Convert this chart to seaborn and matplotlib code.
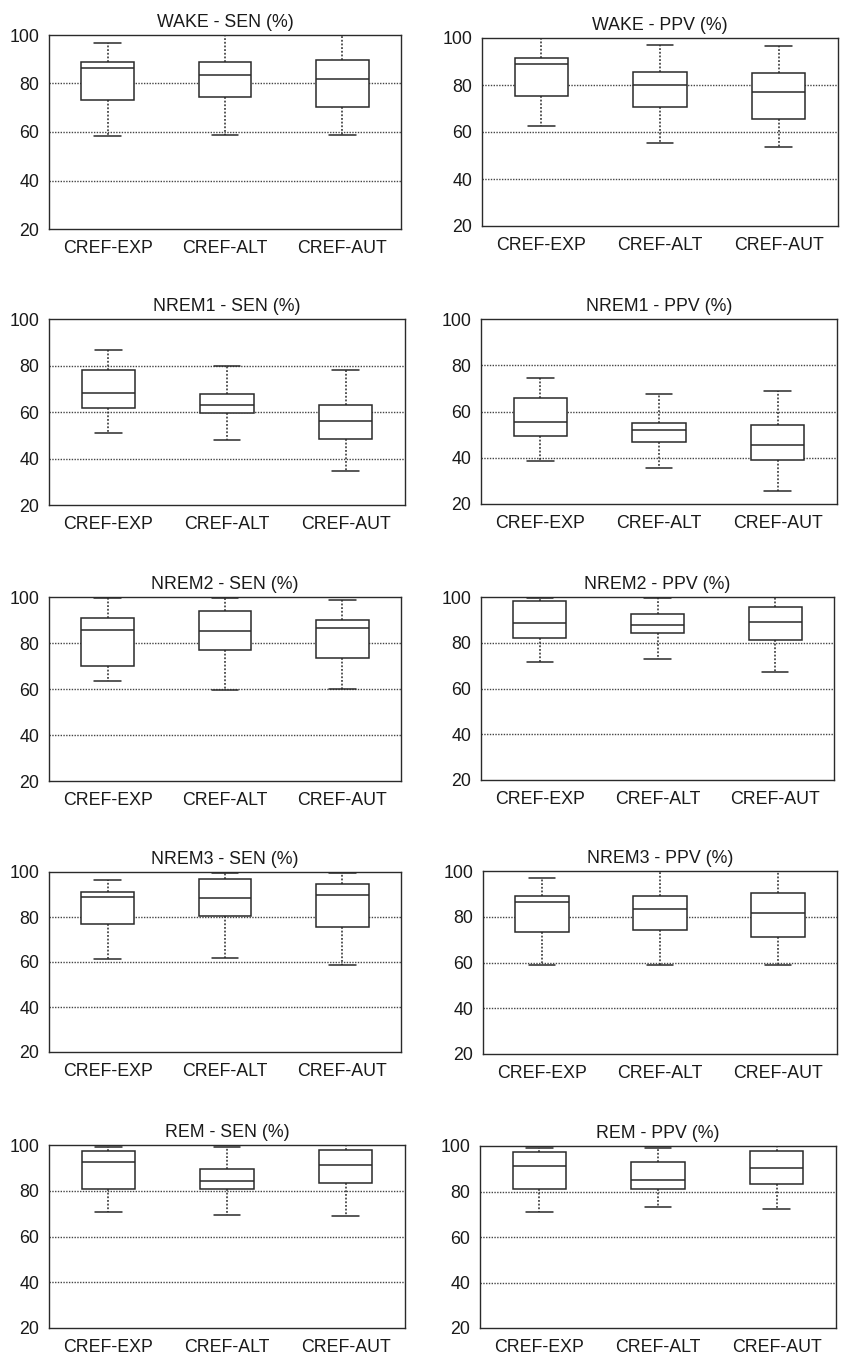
import matplotlib
matplotlib.use("Agg")
import matplotlib.pyplot as plt
import seaborn as sns
import pandas as pd

# Five-number summaries (min, Q1, median, Q3, max) per method, in %
methods = ["CREF-EXP", "CREF-ALT", "CREF-AUT"]

wake_sen = [(58.2, 73.2, 86.3, 88.9, 96.8),
            (58.6, 74.3, 83.5, 88.7, 100.0),
            (58.6, 70.4, 81.7, 89.8, 100.0)]
wake_ppv = [(62.4, 75.5, 88.8, 91.5, 99.9),
            (55.2, 70.6, 80.1, 85.5, 97.2),
            (53.6, 65.7, 76.9, 85.0, 96.5)]
nrem1_sen = [(51.0, 61.8, 68.3, 77.9, 86.6),
             (47.9, 59.5, 62.8, 67.7, 80.0),
             (34.5, 48.3, 56.1, 63.2, 77.9)]
nrem1_ppv = [(38.6, 49.3, 55.4, 65.9, 74.3),
             (35.7, 47.0, 52.1, 55.2, 67.7),
             (25.8, 39.1, 45.3, 54.2, 68.8)]
nrem2_sen = [(63.3, 70.0, 85.7, 90.8, 99.4),
             (59.6, 76.9, 85.3, 93.7, 99.4),
             (60.0, 73.5, 86.5, 89.8, 98.8)]
nrem2_ppv = [(71.7, 81.9, 88.8, 98.1, 99.4),
             (72.8, 84.2, 87.6, 92.6, 99.4),
             (67.2, 81.3, 89.2, 95.8, 100.0)]
nrem3_sen = [(61.3, 76.9, 88.9, 91.1, 96.4),
             (61.9, 80.4, 88.4, 96.9, 99.4),
             (58.5, 75.7, 89.9, 94.7, 99.4)]
nrem3_ppv = [(58.8, 73.3, 86.3, 89.1, 97.1),
             (58.8, 74.4, 83.5, 89.1, 100.0),
             (58.8, 71.0, 81.8, 90.2, 100.0)]
rem_sen = [(70.8, 80.9, 92.7, 97.4, 99.3),
           (69.6, 80.9, 84.4, 89.4, 99.3),
           (69.0, 83.3, 91.1, 97.8, 100.0)]
rem_ppv = [(70.9, 81.0, 91.2, 97.5, 99.3),
           (73.1, 81.0, 85.1, 92.8, 99.3),
           (72.2, 83.3, 90.2, 98.0, 100.0)]

titles = ["WAKE - SEN (%)", "WAKE - PPV (%)",
          "NREM1 - SEN (%)", "NREM1 - PPV (%)",
          "NREM2 - SEN (%)", "NREM2 - PPV (%)",
          "NREM3 - SEN (%)", "NREM3 - PPV (%)",
          "REM - SEN (%)", "REM - PPV (%)"]
panels = [wake_sen, wake_ppv, nrem1_sen, nrem1_ppv, nrem2_sen,
          nrem2_ppv, nrem3_sen, nrem3_ppv, rem_sen, rem_ppv]
yticks = [20, 40, 60, 80, 100]

# Axes rectangles in pixels: (left, top, right, bottom)
rects = [(49, 35, 401, 229), (482, 38, 838, 226),
         (49, 319, 405, 505), (481, 319, 837, 504),
         (49, 597, 401, 781), (481, 597, 834, 780),
         (49, 872, 401, 1052), (483, 871, 837, 1054),
         (49, 1145, 405, 1328), (480, 1146, 836, 1328)]

sns.set_theme(style="white")
plt.rcParams["font.family"] = ["Liberation Sans", "DejaVu Sans"]

W, H = 843, 1357
fig = plt.figure(figsize=(W / 100, H / 100), dpi=100)
ink = "#2a2a2a"

for title, summ, (l, t, r, b) in zip(titles, panels, rects):
    ax = fig.add_axes([l / W, 1 - b / H, (r - l) / W, (b - t) / H])
    rows = [(m, v) for m, five in zip(methods, summ) for v in five]
    df = pd.DataFrame(rows, columns=["method", "value"])
    for yv in [40, 60, 80]:
        ax.axhline(yv, color="#444444", lw=1.0, ls=(0, (1, 1)), zorder=0)
    sns.boxplot(data=df, x="method", y="value", order=methods, ax=ax,
                whis=(0, 100), width=0.45, color="white", saturation=1,
                linecolor=ink, linewidth=1.1, showfliers=False,
                whiskerprops=dict(linestyle=(0, (1.2, 1.2)), color=ink),
                capprops=dict(linestyle="-", color=ink),
                medianprops=dict(color=ink, linewidth=1.1))
    ax.set_ylim(20, 100)
    ax.set_xlim(-0.5, 2.5)
    ax.set_yticks(yticks)
    ax.set_xlabel("")
    ax.set_ylabel("")
    ax.set_title(title, fontsize=12.8, color="#1a1a1a", pad=6)
    ax.tick_params(axis="both", length=0, labelsize=12.8, colors="#1a1a1a")
    ax.tick_params(axis="y", pad=7)
    ax.tick_params(axis="x", pad=8)
    for sp in ax.spines.values():
        sp.set_visible(True)
        sp.set_color(ink)
        sp.set_linewidth(1.0)

fig.savefig("out.png", dpi=100, facecolor="white")
